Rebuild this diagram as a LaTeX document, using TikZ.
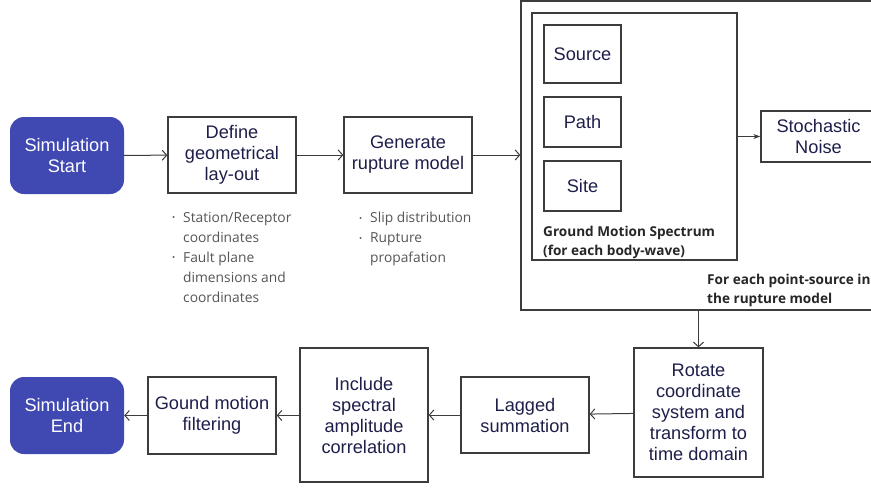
\documentclass[tikz,border=0pt]{standalone}
\usepackage{fontspec}
\setmainfont{Liberation Sans}
\newfontfamily\notefont{Open Sans}
\usepackage{xcolor}
\definecolor{simblue}{RGB}{64,72,178}
\definecolor{boxtext}{RGB}{30,30,75}
\definecolor{notegray}{RGB}{85,85,85}
\definecolor{linegray}{RGB}{60,60,60}
\usepackage{tikz}
\usetikzlibrary{positioning}
\usetikzlibrary{arrows.meta}

\tikzset{
  stepbox/.style={draw=linegray, line width=1.3pt, rectangle, inner sep=0pt,
    align=center, text=boxtext, font=\fontsize{18.2}{21}\selectfont},
  simbox/.style={fill=simblue, draw=none, rounded corners=14pt, inner sep=0pt,
    align=center, text=white, font=\fontsize{18.2}{21}\selectfont,
    minimum width=114pt, minimum height=77pt},
  frame/.style={draw=linegray, line width=1.3pt, rectangle, inner sep=0pt},
  note/.style={anchor=north west, inner sep=0pt, align=left, text=notegray,
    font=\notefont\fontsize{13.8}{20}\selectfont},
  tag/.style={anchor=north west, inner sep=0pt, align=left, text=black!85,
    font=\notefont\bfseries\fontsize{13.6}{19}\selectfont}
}
\newcommand{\itemdot}{\llap{\raisebox{1.5pt}{\scalebox{0.6}{\textbullet}}\hspace{8pt}}}

\begin{document}
\begin{tikzpicture}[x=1pt, y=-1pt]
	\clip (0,0) rectangle (871,488);
	\useasboundingbox (0,0) rectangle (871,488);

	% top row
	\node[simbox] (start) at (67,155.5) {Simulation\\Start};
	\node[stepbox, minimum width=128pt, minimum height=76pt] (layout) at (232,155) {Define\\geometrical\\lay-out};
	\node[stepbox, minimum width=128pt, minimum height=76pt] (rupture) at (408,155) {Generate\\rupture model};

	% point-source loop
	\node[frame, minimum width=364pt, minimum height=309pt] (loop) at (703,155.5) {};
	\node[frame, minimum width=205pt, minimum height=247pt] (gms) at (634.5,136.5) {};
	\node[stepbox, minimum width=77pt, minimum height=58pt] (source) at (582.5,54) {Source};
	\node[stepbox, minimum width=77pt, minimum height=50pt] (path) at (582.5,122) {Path};
	\node[stepbox, minimum width=77pt, minimum height=50pt] (site) at (582.5,186) {Site};
	\node[stepbox, minimum width=115pt, minimum height=51pt] (noise) at (818.5,136.5) {Stochastic\\Noise};
	\node[tag] (gmslabel) at (543,226) {Ground Motion Spectrum\\(for each body-wave)};
	\node[tag] (looplabel) at (707,274) {For each point-source in\\the rupture model};

	% notes
	\node[note] (layoutnote) at (183,212) {\itemdot Station/Receptor\\coordinates\\\itemdot Fault plane\\dimensions and\\coordinates};
	\node[note] (rupturenote) at (370,212) {\itemdot Slip distribution\\\itemdot Rupture\\propafation};

	% bottom row
	\node[stepbox, minimum width=129pt, minimum height=129pt] (rotate) at (698.5,412.5) {Rotate\\coordinate\\system and\\transform to\\time domain};
	\node[stepbox, minimum width=128pt, minimum height=76pt] (lagged) at (525,415) {Lagged\\summation};
	\node[stepbox, minimum width=128pt, minimum height=134pt] (spectral) at (364,415) {Include\\spectral\\amplitude\\correlation};
	\node[stepbox, minimum width=128pt, minimum height=77pt] (filter) at (212,415.5) {Gound motion\\filtering};
	\node[simbox] (end) at (67,415.5) {Simulation\\End};

	\begin{scope}[>={Straight Barb[length=4.5pt,width=10pt]},
	              every edge/.style={draw=linegray, line width=1pt}]
		\path [->] (start) edge (layout);
		\path [->] (layout) edge (rupture);
		\path [->] (rupture) edge (rupture -| loop.west);
		\path [->] (loop.south -| rotate.north) edge (rotate.north);
		\path [->] (rotate) edge (lagged);
		\path [->] (lagged) edge (lagged -| spectral.east);
		\path [->] (spectral.west |- filter) edge (filter);
		\path [->] (filter) edge (end);
	\end{scope}
	\path [draw=linegray, line width=1pt, -{Stealth[length=7pt,width=5pt]}] (gms.east |- noise) -- (noise.west);
\end{tikzpicture}
\end{document}
